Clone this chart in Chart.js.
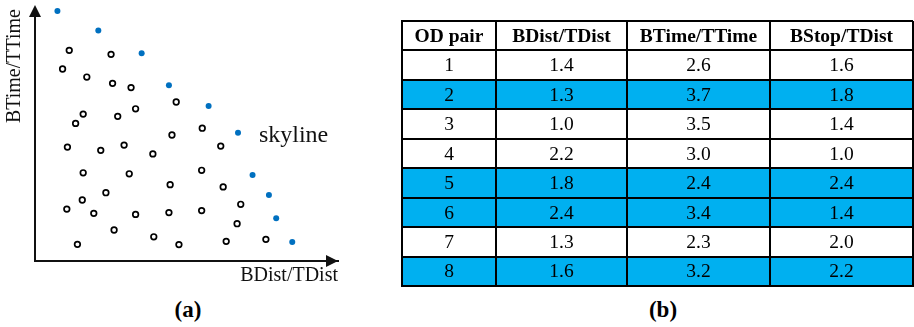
<!DOCTYPE html>
<html>
<head>
<meta charset="utf-8">
<script src="https://cdn.jsdelivr.net/npm/chart.js@4.4.1/dist/chart.umd.min.js"></script>
<style>
  html, body { margin: 0; padding: 0; background: #fff; }
  #wrap { position: relative; width: 914px; height: 327px; overflow: hidden; }
  #scatter { position: absolute; left: 0; top: 0; }
  #table { position: absolute; left: 400px; top: 20px; }
  .cap { position: absolute; top: 296px; width: 80px; text-align: center;
         font: bold 23px "Liberation Serif", "Times New Roman", serif; line-height: 28px; color: #000; }
</style>
</head>
<body>
<div id="wrap">
  <canvas id="scatter" width="400" height="290"></canvas>
  <canvas id="table" width="514" height="267"></canvas>
  <div class="cap" style="left:148px">(a)</div>
  <div class="cap" style="left:623px">(b)</div>
</div>
<script>
// (a) candidate routes in the BDist/TDist – BTime/TTime plane
const skylineX = [0.74, 2.09, 3.52, 4.42, 5.73, 6.70, 7.18, 7.72, 7.96, 8.49];
const skylineY = [9.92, 9.15, 8.24, 6.97, 6.15, 5.09, 3.41, 2.62, 1.70, 0.75];
const otherX = [1.13, 2.51, 0.91, 1.71, 2.56, 3.17, 4.66, 3.32, 1.59, 2.73,
                1.34, 5.52, 4.52, 6.13, 1.07, 2.94, 2.17, 3.89, 1.59, 3.11,
                5.50, 4.46, 6.21, 2.34, 1.56, 6.79, 1.05, 1.94, 3.32, 4.42,
                5.50, 6.67, 2.61, 3.92, 1.40, 4.75, 6.31, 7.62];
const otherY = [8.36, 8.20, 7.62, 7.30, 7.05, 6.88, 6.31, 6.04, 5.83, 5.74,
                5.46, 5.27, 5.00, 4.56, 4.52, 4.60, 4.39, 4.25, 3.50, 3.46,
                3.60, 3.03, 2.94, 2.71, 2.42, 2.25, 2.06, 1.89, 1.85, 1.92,
                2.00, 1.48, 1.23, 0.96, 0.66, 0.65, 0.78, 0.86];
const skylineLabel = { text: 'skyline', x: 7.39, y: 4.73 };

// (b) ratios per OD pair
const columnTitles = ['OD pair', 'BDist/TDist', 'BTime/TTime', 'BStop/TDist'];
const odPairs = ['1', '2', '3', '4', '5', '6', '7', '8'];
const bdistTdist = [1.4, 1.3, 1.0, 2.2, 1.8, 2.4, 1.3, 1.6];
const btimeTtime = [2.6, 3.7, 3.5, 3.0, 2.4, 3.4, 2.3, 3.2];
const bstopTdist = [1.6, 1.8, 1.4, 1.0, 2.4, 1.4, 2.0, 2.2];
const skylinePairs = ['2', '5', '6', '8'];

const serif = '"Liberation Serif", "Times New Roman", serif';
const ink = '#111';

const toPoints = (xs, ys) => xs.map((x, i) => ({ x, y: ys[i] }));

// arrowheads on both axes
const axisArrows = {
  id: 'axisArrows',
  afterDraw(chart) {
    const { ctx, chartArea: { left, right, top, bottom } } = chart;
    ctx.save();
    ctx.fillStyle = ink;
    ctx.beginPath();
    ctx.moveTo(left, top - 4);
    ctx.lineTo(left - 6, top + 8);
    ctx.lineTo(left + 6, top + 8);
    ctx.closePath();
    ctx.fill();
    ctx.beginPath();
    ctx.moveTo(right, bottom);
    ctx.lineTo(right - 12, bottom - 6);
    ctx.lineTo(right - 12, bottom + 6);
    ctx.closePath();
    ctx.fill();
    ctx.restore();
  }
};

// "skyline" annotation placed in data space
const skylineText = {
  id: 'skylineText',
  afterDatasetsDraw(chart) {
    const { ctx, scales: { x, y } } = chart;
    ctx.save();
    ctx.font = '24px ' + serif;
    ctx.fillStyle = ink;
    ctx.textAlign = 'left';
    ctx.textBaseline = 'alphabetic';
    ctx.fillText(skylineLabel.text, x.getPixelForValue(skylineLabel.x), y.getPixelForValue(skylineLabel.y));
    ctx.restore();
  }
};

new Chart(document.getElementById('scatter'), {
  type: 'scatter',
  data: {
    datasets: [
      {
        label: 'dominated',
        data: toPoints(otherX, otherY),
        clip: false,
        pointRadius: 2.8,
        pointBorderWidth: 1.7,
        pointBackgroundColor: '#fff',
        pointBorderColor: '#000'
      },
      {
        label: 'skyline',
        data: toPoints(skylineX, skylineY),
        clip: false,
        pointRadius: 3,
        pointBorderWidth: 0,
        pointBackgroundColor: '#0070C0',
        pointBorderColor: '#0070C0'
      }
    ]
  },
  options: {
    responsive: false,
    devicePixelRatio: 1,
    animation: false,
    layout: { padding: { left: 0, right: 62, top: 9, bottom: 2 } },
    plugins: { legend: { display: false }, tooltip: { enabled: false } },
    scales: {
      x: {
        type: 'linear', min: 0, max: 10,
        grid: { display: false, drawTicks: false },
        ticks: { display: false },
        border: { display: true, color: ink, width: 2 },
        title: {
          display: true, text: 'BDist/TDist', align: 'end', color: ink,
          font: { family: serif, size: 20, lineHeight: 1.2 },
          padding: { top: 3, bottom: 0 }
        }
      },
      y: {
        type: 'linear', min: 0, max: 10,
        grid: { display: false, drawTicks: false },
        ticks: { display: false },
        border: { display: true, color: ink, width: 2 },
        title: {
          display: true, text: 'BTime/TTime', align: 'end', color: ink,
          font: { family: serif, size: 20, lineHeight: 1.2 },
          padding: { top: 3, bottom: 8 }
        }
      }
    }
  },
  plugins: [axisArrows, skylineText]
});

// table drawn as a grid of category rows and column bands
const colWeights = [94, 131, 143, 143];
const colEdges = colWeights.reduce((acc, w) => { acc.push(acc[acc.length - 1] + w); return acc; }, [0]);
const tableWidth = colEdges[colEdges.length - 1];
const tableRows = ['OD pair', ...odPairs];

const cellText = {
  id: 'cellText',
  afterDraw(chart) {
    const { ctx, scales: { x, y } } = chart;
    ctx.save();
    ctx.fillStyle = '#000';
    ctx.textAlign = 'center';
    ctx.textBaseline = 'middle';
    tableRows.forEach((row, ri) => {
      const cy = y.getPixelForTick(ri);
      const cells = ri === 0
        ? columnTitles
        : [odPairs[ri - 1], bdistTdist[ri - 1].toFixed(1), btimeTtime[ri - 1].toFixed(1), bstopTdist[ri - 1].toFixed(1)];
      ctx.font = (ri === 0 ? 'bold ' : '') + '19.5px ' + serif;
      cells.forEach((t, ci) => {
        const cx = x.getPixelForValue((colEdges[ci] + colEdges[ci + 1]) / 2);
        ctx.fillText(t, cx, cy + 1);
      });
    });
    ctx.restore();
  }
};

new Chart(document.getElementById('table'), {
  type: 'bar',
  data: {
    labels: tableRows,
    datasets: [{
      data: tableRows.map(r => skylinePairs.includes(r) ? [0, tableWidth] : null),
      backgroundColor: '#00B0F0',
      borderWidth: 0,
      barPercentage: 1,
      categoryPercentage: 1
    }]
  },
  options: {
    indexAxis: 'y',
    responsive: false,
    devicePixelRatio: 1,
    animation: false,
    layout: { padding: { left: 2, right: 1, top: 1, bottom: 1 } },
    plugins: { legend: { display: false }, tooltip: { enabled: false } },
    scales: {
      x: {
        type: 'linear', min: 0, max: tableWidth,
        afterBuildTicks(axis) { axis.ticks = colEdges.map(v => ({ value: v })); },
        ticks: { display: false },
        grid: { display: true, color: '#000', lineWidth: 2, drawTicks: false, z: 1 },
        border: { display: true, color: '#000', width: 2, z: 1 }
      },
      y: {
        type: 'category', offset: true,
        ticks: { display: false },
        grid: { display: true, offset: true, color: '#000', lineWidth: 2, drawTicks: false, z: 1 },
        border: { display: true, color: '#000', width: 2, z: 1 }
      }
    }
  },
  plugins: [cellText]
});
</script>
</body>
</html>
